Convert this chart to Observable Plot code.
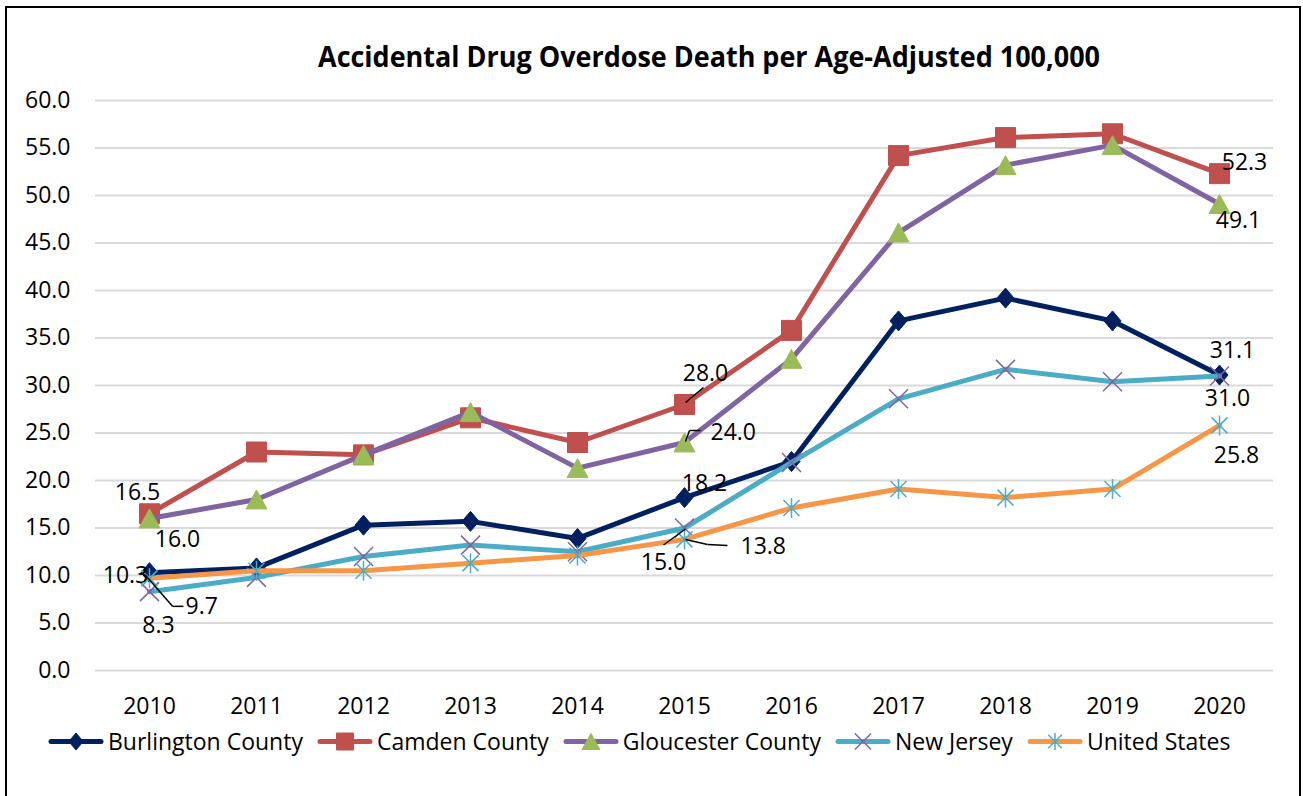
<!DOCTYPE html>
<html><head><meta charset="utf-8">
<script src="https://cdn.jsdelivr.net/npm/d3@7"></script>
<script src="https://cdn.jsdelivr.net/npm/@observablehq/plot@0.6"></script>
<style>
body{margin:0;background:#fff;font-family:"Open Sans",sans-serif;}
#wrap{position:relative;width:1303px;height:796px;overflow:hidden;}
#chart{position:absolute;left:0;top:0;}
#frame{position:absolute;left:5px;top:6px;width:1292px;height:800px;border:2px solid #000;}
#title{position:absolute;top:42px;left:709px;transform:translateX(-50%) scaleX(0.963);white-space:nowrap;font-weight:700;font-size:28px;line-height:28px;color:#000;}
#legend{position:absolute;top:730px;left:48px;display:flex;align-items:center;font-size:23px;line-height:23px;white-space:nowrap;color:#000;}
.item{display:flex;align-items:center;margin-right:14px;}
.item svg{margin-right:4px;display:block;}
</style></head><body>
<div id="wrap"><div id="chart"></div><div id="frame"></div>
<div id="title">Accidental Drug Overdose Death per Age-Adjusted 100,000</div>
<div id="legend"></div></div>
<script>
// ---- data ----
const years = ["2010","2011","2012","2013","2014","2015","2016","2017","2018","2019","2020"];
const burlington   = [10.3, 10.8, 15.3, 15.7, 13.9, 18.2, 22.0, 36.8, 39.2, 36.8, 31.1];
const camden       = [16.5, 23.0, 22.7, 26.6, 24.0, 28.0, 35.8, 54.2, 56.1, 56.5, 52.3];
const gloucester   = [16.0, 18.0, 22.7, 27.2, 21.3, 24.0, 32.8, 46.1, 53.2, 55.3, 49.1];
const newJersey    = [8.3, 9.8, 12.0, 13.2, 12.5, 15.0, 21.9, 28.6, 31.7, 30.4, 31.0];
const unitedStates = [9.7, 10.5, 10.5, 11.3, 12.1, 13.8, 17.1, 19.1, 18.2, 19.1, 25.8];
const seriesNames = ["Burlington County","Camden County","Gloucester County","New Jersey","United States"];
const yTicks = [0,5,10,15,20,25,30,35,40,45,50,55,60];
const titleText = "Accidental Drug Overdose Death per Age-Adjusted 100,000";

// labelled points (series index, year)
const labelPoints = [
  [1,"2010"],[2,"2010"],[0,"2010"],[4,"2010"],[3,"2010"],
  [1,"2015"],[2,"2015"],[0,"2015"],[3,"2015"],[4,"2015"],
  [1,"2020"],[2,"2020"],[0,"2020"],[3,"2020"],[4,"2020"]
];

// ---- styling / layout ----
const seriesValues = [burlington, camden, gloucester, newJersey, unitedStates];
const lineColors = ["#002060","#C0504D","#8064A2","#4BACC6","#F79646"];
const sym = {
  diamond:{draw(c,s){const r=Math.sqrt(s/Math.PI);c.moveTo(0,-r);c.lineTo(0.85*r,0);c.lineTo(0,r);c.lineTo(-0.85*r,0);c.closePath();}},
  square:{draw(c,s){const r=Math.sqrt(s/Math.PI);c.moveTo(-r,-r);c.lineTo(r,-r);c.lineTo(r,r);c.lineTo(-r,r);c.closePath();}},
  triangle:{draw(c,s){const r=Math.sqrt(s/Math.PI);c.moveTo(0,-0.9*r);c.lineTo(r,0.9*r);c.lineTo(-r,0.9*r);c.closePath();}},
  times:{draw(c,s){const r=Math.sqrt(s/Math.PI);c.moveTo(-r,-r);c.lineTo(r,r);c.moveTo(r,-r);c.lineTo(-r,r);}},
  star:{draw(c,s){const r=Math.sqrt(s/Math.PI);const a=0.8*r;c.moveTo(-a,-a);c.lineTo(a,a);c.moveTo(a,-a);c.lineTo(-a,a);c.moveTo(0,-r);c.lineTo(0,r);}}
};
const markers = [
  {symbol:sym.diamond, r:10, fill:"#002060", stroke:"#002060", sw:1},
  {symbol:sym.square, r:10, fill:"#C0504D", stroke:"#C0504D", sw:1},
  {symbol:sym.triangle, r:10.5, fill:"#9BBB59", stroke:"#9BBB59", sw:1},
  {symbol:sym.times, r:9.5, fill:"none", stroke:"#8064A2", sw:1.5},
  {symbol:sym.star, r:10, fill:"none", stroke:"#4BACC6", sw:1.5}
];
// label offsets in px from the point, and text anchor
const labelStyle = [
  {dx:-12,dy:-21,a:"middle"},{dx:28,dy:21,a:"middle"},{dx:-24,dy:3,a:"middle"},{dx:36,dy:28,a:"start"},{dx:9,dy:34,a:"middle"},
  {dx:21,dy:-31,a:"middle"},{dx:26,dy:-10,a:"start"},{dx:20,dy:-14,a:"middle"},{dx:-21,dy:35,a:"middle"},{dx:56,dy:7,a:"start"},
  {dx:25,dy:-11,a:"middle"},{dx:19,dy:17,a:"middle"},{dx:13,dy:-24,a:"middle"},{dx:8,dy:23,a:"middle"},{dx:17,dy:30,a:"middle"}
];
// leader polylines (px offsets from point) keyed by label index
const leaders = {
  3: [[-4,-3],[23,28],[34,28]],
  5: [[1,-2],[19,-17]],
  6: [[1,-1],[5,-12],[16,-12]],
  8: [[1,1],[-21,17]],
  9: [[1,0],[23,5],[43,6]]
};

const data = seriesNames.flatMap((s,i)=>years.map((y,j)=>({series:s, year:y, value:seriesValues[i][j]})));

const marks = [
  Plot.gridY(yTicks, {stroke:"#d9d9d9", strokeOpacity:1, strokeWidth:2}),
  Plot.axisY(yTicks, {tickSize:0, tickPadding:25, tickFormat:d=>d.toFixed(1), fontSize:23, fill:"#000"}),
  Plot.axisX(years, {tickSize:0, tickPadding:27, fontSize:23, fill:"#000"})
];
seriesNames.forEach((s,i)=>{
  const d = data.filter(e=>e.series===s);
  marks.push(Plot.line(d,{x:"year",y:"value",stroke:lineColors[i],strokeWidth:5,strokeLinejoin:"round",strokeLinecap:"round"}));
  const m = markers[i];
  marks.push(Plot.dot(d,{x:"year",y:"value",symbol:m.symbol,r:m.r,fill:m.fill,stroke:m.stroke,strokeWidth:m.sw}));
});
labelPoints.forEach(([si,yr],k)=>{
  const v = seriesValues[si][years.indexOf(yr)];
  const st = labelStyle[k];
  const datum = [{year:yr, value:v}];
  marks.push(Plot.text(datum,{x:"year",y:"value",text:d=>d.value.toFixed(1),dx:st.dx,dy:st.dy,textAnchor:st.a,fontSize:23,fill:"#000"}));
  const pl = leaders[k];
  if (pl) {
    for (let p=0;p<pl.length-1;p++){
      const [x0,y0]=pl[p],[x1,y1]=pl[p+1];
      const L = Math.hypot(x1-x0,y1-y0);
      const R = Math.atan2(x1-x0,-(y1-y0))*180/Math.PI;
      marks.push(Plot.vector(datum,{x:"year",y:"value",length:L,rotate:R,anchor:"start",dx:x0,dy:y0,r:0,stroke:"#000",strokeWidth:1.5,strokeLinecap:"butt"}));
    }
  }
});

const chart = Plot.plot({
  width:1303, height:720,
  marginTop:100, marginBottom:50, marginLeft:95, marginRight:30,
  style:{fontFamily:"Open Sans", fontSize:"23px", color:"#000", background:"transparent"},
  x:{type:"point", domain:years, padding:0.5, label:null},
  y:{domain:[0,60], label:null},
  marks
});
document.getElementById("chart").appendChild(chart);
document.getElementById("title").textContent = titleText;

// legend
const legend = d3.select("#legend");
seriesNames.forEach((s,i)=>{
  const it = legend.append("div").attr("class","item");
  const svg = it.append("svg").attr("width",56).attr("height",23);
  svg.append("line").attr("x1",3).attr("x2",53).attr("y1",11.5).attr("y2",11.5)
    .attr("stroke",lineColors[i]).attr("stroke-width",5).attr("stroke-linecap","round");
  const m = markers[i];
  svg.append("path").attr("transform","translate(28,11.5)")
    .attr("d", d3.symbol(m.symbol, Math.PI*(m.r*0.85)*(m.r*0.85))())
    .attr("fill",m.fill).attr("stroke",m.stroke).attr("stroke-width",m.sw);
  it.append("span").text(s);
});
</script>
</body></html>
